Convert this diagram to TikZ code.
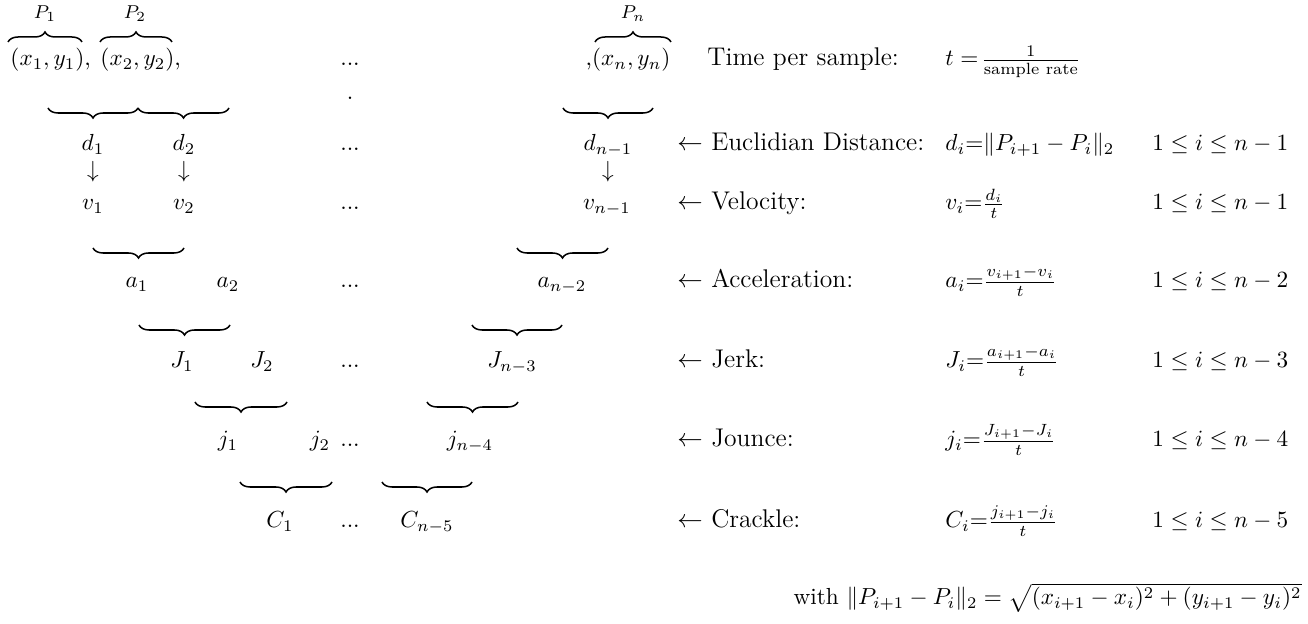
\documentclass[tikz,border=0pt]{standalone}
\usepackage{amsmath}
\usepackage{tikz}
\usetikzlibrary{decorations.pathreplacing,positioning}

\begin{document}
\begin{tikzpicture}[x=0.43pt, y=-0.43pt,
    term/.style={anchor=base, inner sep=0pt},
    plabel/.style={anchor=base, inner sep=0pt, font=\footnotesize},
    desc/.style={anchor=base west, inner sep=0pt, font=\fontsize{11}{13}\selectfont},
    form/.style={anchor=base west, inner sep=0pt},
    obrace/.style={decorate, decoration={brace, amplitude=4.3pt}, line width=0.65pt},
    ubrace/.style={decorate, decoration={brace, mirror, amplitude=4.3pt}, line width=0.65pt}
]
\useasboundingbox (0,0) rectangle (1308,624);

% --- sample points ---
\node[form]               (p1)    at (10,66)  {$(x_1, y_1)$,};
\node[form]               (p2)    at (100,66) {$(x_2, y_2)$,};
\node[term]               (pdots) at (350,66) {...};
\node[term, anchor=base east] (pn) at (671,66) {,$(x_n, y_n)$};
\node[term]               (pdot)  at (350,100) {.};

\node[plabel] (lp1) at (45,19)  {$P_1$};
\node[plabel] (lp2) at (135,19) {$P_2$};
\node[plabel] (lpn) at (633,19) {$P_n$};

\draw[obrace] (8,42) -- (82,42);
\draw[obrace] (100,42) -- (172,42);
\draw[obrace] (595,42) -- (671,42);

% --- distance ---
\draw[ubrace] (48,108) -- (138,108);
\draw[ubrace] (138,108) -- (229,108);
\draw[ubrace] (563,108) -- (653,108);

\node[term] (d1)    at (93,151)  {$d_1$};
\node[term] (d2)    at (184,151) {$d_2$};
\node[term] (ddots) at (350,151) {...};
\node[term] (dn)    at (608,151) {$d_{n-1}$};

\node[term] (ar1) at (93,178)  {$\downarrow$};
\node[term] (ar2) at (184,178) {$\downarrow$};
\node[term] (arn) at (608,178) {$\downarrow$};

% --- velocity ---
\node[term] (v1)    at (93,210)  {$v_1$};
\node[term] (v2)    at (184,210) {$v_2$};
\node[term] (vdots) at (350,210) {...};
\node[term] (vn)    at (607,210) {$v_{n-1}$};

% --- acceleration ---
\draw[ubrace] (93,248) -- (184,248);
\draw[ubrace] (517,248) -- (608,248);

\node[term] (a1)    at (137,288) {$a_1$};
\node[term] (a2)    at (228,288) {$a_2$};
\node[term] (adots) at (350,288) {...};
\node[term] (an)    at (562,288) {$a_{n-2}$};

% --- jerk ---
\draw[ubrace] (139,325) -- (230,325);
\draw[ubrace] (472,325) -- (562,325);

\node[term] (J1)    at (182,368) {$J_1$};
\node[term] (J2)    at (262,368) {$J_2$};
\node[term] (Jdots) at (350,368) {...};
\node[term] (Jn)    at (512,368) {$J_{n-3}$};

% --- jounce ---
\draw[ubrace] (195,402) -- (287,402);
\draw[ubrace] (427,402) -- (518,402);

\node[term] (j1)    at (228,447) {$j_1$};
\node[term] (j2)    at (320,447) {$j_2$};
\node[term] (jdots) at (350,447) {...};
\node[term] (jn)    at (470,447) {$j_{n-4}$};

% --- crackle ---
\draw[ubrace] (240,482) -- (332,482);
\draw[ubrace] (382,482) -- (472,482);

\node[term] (C1)    at (280,528) {$C_1$};
\node[term] (Cdots) at (350,528) {...};
\node[term] (Cn)    at (427,528) {$C_{n-5}$};

% --- definitions ---
\node[desc] (tname) at (707,66)  {Time per sample:};
\node[form] (tdef)  at (945,66)  {$t =\!\frac{1}{\text{sample rate}}$};

\node[desc] (dname) at (677,151) {$\leftarrow$ Euclidian Distance:};
\node[form] (ddef)  at (945,151) {$d_i{=}\|P_{i+1}-P_i\|_2$};
\node[form] (drng)  at (1152,151) {$1 \le i \le n-1$};

\node[desc] (vname) at (677,210) {$\leftarrow$ Velocity:};
\node[form] (vdef)  at (945,210) {$v_i{=}\frac{d_i}{t}$};
\node[form] (vrng)  at (1152,210) {$1 \le i \le n-1$};

\node[desc] (aname) at (677,288) {$\leftarrow$ Acceleration:};
\node[form] (adef)  at (945,288) {$a_i{=}\frac{v_{i+1}-v_i}{t}$};
\node[form] (arng)  at (1152,288) {$1 \le i \le n-2$};

\node[desc] (Jname) at (677,368) {$\leftarrow$ Jerk:};
\node[form] (Jdef)  at (945,368) {$J_i{=}\frac{a_{i+1}-a_i}{t}$};
\node[form] (Jrng)  at (1152,368) {$1 \le i \le n-3$};

\node[desc] (jname) at (677,447) {$\leftarrow$ Jounce:};
\node[form] (jdef)  at (945,447) {$j_i{=}\frac{J_{i+1}-J_i}{t}$};
\node[form] (jrng)  at (1152,447) {$1 \le i \le n-4$};

\node[desc] (Cname) at (677,528) {$\leftarrow$ Crackle:};
\node[form] (Cdef)  at (945,528) {$C_i{=}\frac{j_{i+1}-j_i}{t}$};
\node[form] (Crng)  at (1152,528) {$1 \le i \le n-5$};

\node[term, anchor=base east] (norm) at (1302,605)
  {with $\|P_{i+1}-P_i\|_2 = \sqrt{(x_{i+1}-x_i)^2+(y_{i+1}-y_i)^2}$};

\end{tikzpicture}
\end{document}
